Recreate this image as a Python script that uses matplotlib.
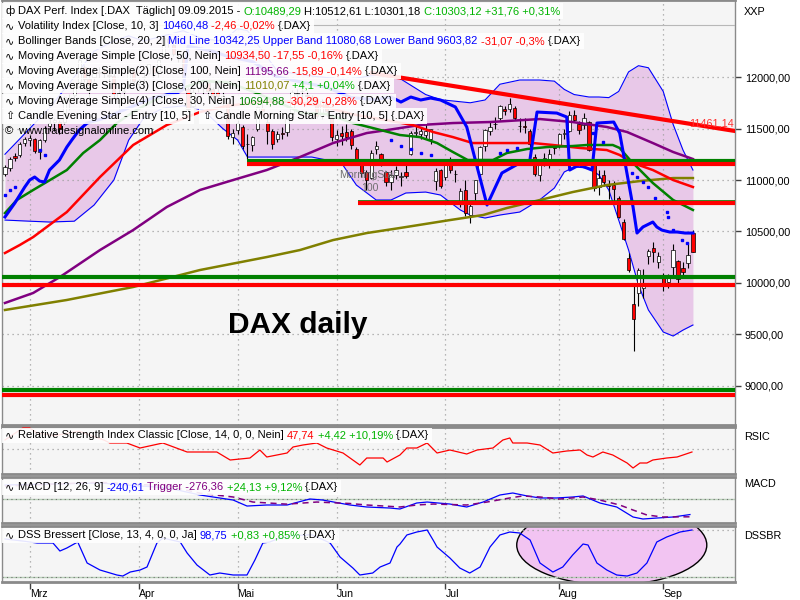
import numpy as np
import pandas as pd
import matplotlib.pyplot as plt
from matplotlib.patches import Rectangle, Ellipse

FONT = ['Liberation Sans', 'DejaVu Sans']
plt.rcParams['font.family'] = FONT

# trading days shown (Xetra, holidays removed)
dates = pd.bdate_range("2015-02-23", "2015-09-09")
dates = dates.drop(pd.to_datetime(["2015-04-03", "2015-04-06", "2015-05-01"]))
days = np.arange(len(dates))
month_labels = ["Mrz", "Apr", "Mai", "Jun", "Jul", "Aug", "Sep"]
month_pos = [int(np.argmax(dates.month == m)) for m in range(3, 10)]

opens = [11060, 11120, 11230, 11240, 11360, 11390, 11400, 11270, 11390, 11520,
         11560, 11560, 11560, 11800, 11830, 11950, 12100, 11980, 12000, 12050,
         12060, 12020, 12010, 11750, 11850, 11900, 12060, 11930, 11990, 12040,
         12100, 12060, 12200, 12370, 12310, 12230, 12180, 11880, 11720, 11900,
         11910, 11940, 11880, 11850, 11790, 11750, 11420, 11490, 11510, 11350,
         11340, 11500, 11700, 11560, 11480, 11400, 11460, 11470, 11640, 11840,
         11860, 11830, 11810, 11790, 11620, 11740, 11620, 11400, 11460, 11470,
         11480, 11300, 11160, 11080, 11020, 11300, 11250, 11080, 10980, 11050,
         11030, 11080, 11250, 11460, 11450, 11440, 11400, 10990, 11100, 11030,
         11160, 11060, 10780, 10900, 10660, 10870, 11060, 11330, 11480, 11540,
         11600, 11690, 11690, 11700, 11520, 11520, 11480, 11220, 11050, 11200,
         11180, 11320, 11330, 11450, 11480, 11630, 11540, 11530, 11560, 11150,
         10930, 11050, 10960, 10950, 10830, 10590, 10240, 9800, 9900, 9950,
         10260, 10340, 10200, 10080, 10010, 10160, 10213, 10150, 10190, 10489]
highs = [11150, 11220, 11260, 11370, 11420, 11440, 11410, 11400, 11520, 11600,
         11600, 11580, 11820, 11840, 11920, 12180, 12120, 12050, 12100, 12100,
         12100, 12060, 12060, 11880, 11900, 12100, 12070, 12000, 12050, 12140,
         12110, 12180, 12390, 12390, 12330, 12260, 12190, 11900, 11880, 11990,
         11960, 11960, 11900, 11910, 11850, 11760, 11500, 11580, 11530, 11450,
         11430, 11720, 11760, 11600, 11500, 11480, 11510, 11610, 11870, 11880,
         11920, 11860, 11830, 11810, 11790, 11760, 11640, 11490, 11520, 11540,
         11500, 11320, 11200, 11100, 11290, 11380, 11260, 11090, 11100, 11140,
         11080, 11170, 11480, 11520, 11510, 11550, 11500, 11120, 11110, 11200,
         11220, 11100, 10920, 11000, 10800, 11000, 11330, 11500, 11560, 11610,
         11730, 11720, 11800, 11720, 11600, 11600, 11500, 11250, 11200, 11260,
         11300, 11350, 11460, 11500, 11670, 11680, 11570, 11650, 11570, 11180,
         11100, 11100, 11000, 10990, 10840, 10620, 10290, 10000, 10150, 10140,
         10330, 10400, 10300, 10100, 10090, 10380, 10220, 10200, 10390, 10513]
lows = [11040, 11090, 11180, 11220, 11330, 11330, 11260, 11200, 11370, 11480,
        11480, 11450, 11540, 11680, 11800, 11940, 11950, 11800, 11960, 11990,
        11990, 11950, 11800, 11690, 11820, 11890, 11940, 11860, 11960, 12030,
        11980, 12000, 12190, 12290, 12200, 12150, 11960, 11660, 11700, 11850,
        11840, 11780, 11780, 11760, 11700, 11400, 11350, 11450, 11300, 11200,
        11280, 11480, 11620, 11350, 11300, 11370, 11400, 11430, 11630, 11800,
        11800, 11760, 11770, 11600, 11590, 11620, 11380, 11330, 11340, 11380,
        11300, 11150, 11030, 10900, 11010, 11250, 11140, 10940, 10900, 11010,
        10940, 11020, 11240, 11430, 11400, 11410, 11350, 10900, 10920, 11000,
        11070, 10980, 10740, 10650, 10580, 10810, 11040, 11280, 11440, 11500,
        11580, 11630, 11660, 11580, 11470, 11460, 11320, 11040, 10990, 11140,
        11120, 11250, 11310, 11400, 11470, 11560, 11450, 11500, 11280, 10890,
        10850, 10940, 10820, 10800, 10630, 10420, 10110, 9338, 9780, 9850,
        10180, 10200, 10150, 9920, 9950, 10060, 10000, 10060, 10150, 10301]
closes = [11131, 11206, 11211, 11352, 11402, 11409, 11280, 11390, 11504, 11551,
          11582, 11500, 11806, 11799, 11901, 12168, 11980, 11922, 12036, 12039,
          12041, 12014, 11832, 11843, 11868, 12086, 11966, 11968, 12002, 12123,
          12035, 12166, 12375, 12339, 12228, 12231, 11998, 11689, 11852, 11943,
          11918, 11867, 11811, 11812, 11811, 11432, 11454, 11553, 11327, 11350,
          11416, 11709, 11673, 11472, 11351, 11448, 11447, 11596, 11853, 11848,
          11864, 11815, 11800, 11625, 11771, 11673, 11413, 11436, 11432, 11419,
          11340, 11197, 11064, 11001, 11265, 11333, 11197, 10984, 11044, 11100,
          11040, 11040, 11460, 11471, 11472, 11473, 11492, 11084, 10945, 11180,
          11099, 11058, 10890, 10676, 10747, 10996, 11316, 11484, 11516, 11540,
          11716, 11673, 11734, 11604, 11520, 11512, 11347, 11056, 11174, 11212,
          11257, 11308, 11443, 11456, 11636, 11585, 11490, 11604, 11293, 10924,
          11015, 10985, 10940, 10915, 10636, 10432, 10124, 9648, 10128, 9998,
          10315, 10298, 10259, 9980, 10048, 10318, 10038, 10108, 10271, 10303]

# Bollinger bands
band_days = [0, 5, 9, 14, 18, 22, 25, 28, 32, 36, 40, 44, 47, 49, 55, 62, 68, 71, 75, 78,
             81, 85, 88, 92, 94, 97, 100, 104, 108, 111, 113, 115, 118, 120, 122, 124,
             126, 128, 130, 133, 135, 137, 139]
band_upper = [11250, 11500, 11700, 12000, 12250, 12350, 12400, 12350, 12400, 12450, 12370,
              12350, 12470, 12450, 12060, 12010, 11980, 11990, 12020, 12040, 11950, 11830,
              11780, 11760, 11750, 11777, 11930, 11971, 11971, 11960, 11880, 11830, 11806,
              11806, 11800, 11860, 12050, 12110, 12090, 11860, 11540, 11290, 11097]
band_lower = [10611, 10600, 10592, 10600, 10757, 11000, 11388, 11600, 11700, 11720, 11680,
              11500, 11388, 11223, 11223, 11223, 11165, 10951, 10806, 10806, 10874, 10883,
              10854, 10709, 10660, 10631, 10660, 10689, 10806, 10922, 11078, 11126, 11116,
              11048, 10903, 10611, 10320, 9980, 9738, 9524, 9485, 9543, 9592]

# volatility stop line and its dotted counterpart
vol_days = [0, 2, 4, 5, 6, 7, 8, 9, 11, 12.5, 13.5, 15, 16.6, 20, 25, 30, 35, 36, 37, 42,
            45, 50, 55, 60, 65, 70, 75, 78, 80, 82, 84, 86, 88, 91, 93.3, 97.4, 100.4, 104,
            106, 107.5, 111.5, 113.5, 114.1, 116, 118.6, 119.6, 123, 124.2, 126.9, 127.7,
            128.9, 130.9, 131.7, 132.7, 134.3, 135.8, 137.4, 139]
vol_vals = [10641, 10777, 10932, 11000, 11029, 10990, 10980, 11097, 11194, 11320, 11388,
            11485, 11553, 11600, 11700, 11800, 11850, 11880, 12300, 12250, 12200, 12150,
            12000, 11950, 11900, 11800, 11780, 11806, 11757, 11806, 11777, 11796, 11777,
            11709, 11515, 10757, 11068, 11165, 11175, 11660, 11650, 11612, 11097, 11146,
            11097, 11553, 11563, 11456, 10738, 10485, 10544, 10592, 10544, 10514, 10495,
            10495, 10485, 10485]
dot_days = [0, 1, 2, 7, 8, 78, 80, 82, 84, 86, 100, 101.4, 103.4, 118.8, 120.8, 126.7,
            127.7, 129, 130, 131.3, 133.7, 134, 135, 136.8, 137.8]
dot_vals = [10854, 10903, 10932, 11291, 11240, 11388, 11330, 11300, 11262, 11243, 11262,
            11291, 11311, 11456, 11369, 11068, 11029, 10980, 10932, 10825, 10689, 10641,
            10514, 10417, 10388]

sma50_days = [0, 3, 5.7, 12.5, 19.2, 25.9, 32.7, 39.4, 45, 52, 58, 64, 70, 76, 82.4, 86.5,
              90.5, 94.5, 101.4, 106.7, 110.7, 116.2, 121.6, 124.2, 126.9, 130.9, 135, 139]
sma50_vals = [10291, 10369, 10446, 10689, 11029, 11340, 11534, 11660, 11720, 11760, 11760,
              11720, 11640, 11590, 11534, 11466, 11417, 11359, 11359, 11359, 11340, 11311,
              11291, 11243, 11165, 11097, 11000, 10932]
sma100_days = [0, 5.7, 11.1, 19.2, 25.9, 32.7, 39.4, 46.1, 52.9, 59.6, 66.3, 73.1, 77.2,
               83.8, 90.5, 98, 108.1, 114.7, 121.6, 125.7, 130.9, 135, 139]
sma100_vals = [9806, 9903, 10058, 10320, 10514, 10738, 10903, 11000, 11097, 11223, 11359,
               11456, 11485, 11534, 11553, 11563, 11592, 11563, 11515, 11466, 11359, 11272,
               11204]
sma200_days = [0, 12.5, 25.9, 39.4, 52.9, 59.6, 66.3, 73.1, 79.8, 89.9, 96.6, 101.4, 108.1,
               114.7, 121.6, 128.3, 135, 139]
sma200_vals = [9738, 9835, 9961, 10126, 10252, 10320, 10417, 10485, 10534, 10611, 10660,
               10728, 10806, 10883, 10951, 10990, 11019, 11019]
sma30_days = [0, 2.4, 5.7, 9.1, 12.5, 15.8, 19.2, 22.6, 25.9, 30, 35, 40, 45, 50, 55, 60,
              65, 70.3, 74.3, 79.8, 83.8, 87.3, 90.5, 93.5, 98.6, 101.4, 105.5, 109.5, 114.7,
              117.6, 122.8, 124.2, 126.3, 128.3, 130.9, 135, 139]
sma30_vals = [10679, 10806, 10903, 11000, 11097, 11262, 11388, 11553, 11660, 11770, 11880,
              11960, 11950, 11860, 11760, 11650, 11640, 11553, 11505, 11437, 11417, 11359,
              11272, 11194, 11194, 11262, 11301, 11320, 11330, 11340, 11340, 11311, 11194,
              11097, 10971, 10806, 10709]

# horizontal support / resistance lines
level_prices = [11180, 11155, 10795, 10778, 10058, 9980, 8960, 8912]
level_start = [49, 49, 71.3, 71.3, -1, -1, -1, -1]
level_colors = ['#008000', '#ff0000', '#008000', '#ff0000', '#008000', '#ff0000', '#008000', '#ff0000']
level_widths = [3, 3, 1.2, 3, 3, 3, 3, 3]
trend_days = [74.1, 147.5]
trend_prices = [12039, 11476]

price_ticks = [9000, 9500, 10000, 10500, 11000, 11500, 12000]

rsi_days = [0, 3.6, 5, 6.5, 10, 15, 20, 21.2, 24.6, 27.3, 31.9, 36.8, 42.8, 45.5, 49.5, 51.5,
            52.9, 57, 58.2, 60.2, 63, 65, 68.3, 71.7, 73.1, 76.4, 77.2, 79.8, 81.2, 83.2, 85.3,
            87.3, 89.9, 93.3, 95.4, 98.6, 100.6, 102, 102.6, 105.5, 108.1, 110.7, 113.5, 116.2,
            117.6, 118.8, 120.8, 122.8, 125.7, 126.9, 128.3, 129.7, 130.9, 133.7, 135.8, 137, 138.8]
rsi_vals = [58.1, 68.9, 68.9, 64.4, 62, 66, 58, 55.4, 55.4, 50.9, 55.4, 47.3, 47.3, 40.1, 41.9,
            49.1, 42.8, 46.4, 51.8, 53.6, 55.4, 50.9, 46.4, 35.6, 41.9, 41.9, 38.3, 44.6, 50.9,
            50.9, 55.4, 46.4, 49.1, 45.5, 49.1, 50.9, 58.1, 59.9, 55.4, 55.4, 53.6, 46.4, 48.2,
            49.1, 44.6, 42.8, 47.3, 44.6, 37.4, 32.9, 37.4, 37.4, 40.1, 41.9, 42.8, 44.6, 47.3]

macd_days = [0, 19, 33, 39.4, 46.1, 48.9, 52.9, 57, 61.6, 64.2, 69.7, 73.1, 77.8, 79.8, 83.2,
             85.3, 89.9, 93.3, 96.6, 100, 102.6, 105.5, 108.1, 111.5, 114.7, 116.8, 120.2,
             123.6, 126.9, 128.9, 131.7, 135, 138.4]
macd_vals = [217, 248, 171, 62, -16, -109, -93, -93, 0, -16, -93, -124, -140, -155, -62, -47,
             -78, -124, -47, 62, 93, 47, 16, 16, 31, 47, -62, -124, -279, -310, -295, -279, -241]
trig_days = [0, 19, 33, 39.4, 46.1, 50.1, 57, 63, 69.7, 73.1, 79.8, 83.2, 86.5, 93.3, 97.4,
             102, 104.6, 108.1, 112.1, 116.8, 120.2, 124.2, 126.9, 129.7, 132.9, 138.4]
trig_vals = [200, 260, 200, 90, 31, -47, -80, -47, -70, -93, -124, -93, -78, -93, -47, 16, 47,
             31, 0, 31, -16, -93, -171, -248, -279, -276]

dss_days = [0, 4, 6.5, 9.7, 11.1, 12.5, 14.7, 16.6, 19.2, 22.6, 23.8, 25.3, 27.3, 28.7, 30.7,
            31.9, 35.4, 36.8, 38.8, 41.4, 43.4, 46.1, 48.9, 50.5, 52.1, 53.5, 55, 58, 62, 65.7,
            67.7, 70.3, 71.7, 74.3, 75.8, 77.8, 79.2, 79.8, 81.2, 83.2, 85.3, 86.5, 87.3, 89.9,
            91.9, 93.9, 96, 98, 100, 102, 104, 106.1, 108.1, 110.7, 112.7, 114.7, 116.8, 117.8,
            119.6, 121.6, 123.6, 125.7, 127.7, 129.7, 131.7, 133.7, 136.4, 138.8]
dss_vals = [80.9, 76, 72.3, 72.3, 55.3, 61.7, 74.5, 29.8, 14.9, 4.3, 2.1, 10.6, 14.9, 21.3,
            72.3, 83, 74.5, 51.1, 25.5, 4.3, 8.5, 4.3, 4.3, 36.2, 72.3, 74.5, 80.9, 88, 90, 72.3,
            42.6, 19.1, 4.3, 8.5, 21.3, 29.8, 63.8, 70, 89.4, 95.7, 100, 78.7, 63.8, 40.4, 19.1,
            8.5, 21.3, 63.8, 89.4, 95.7, 93.6, 78.7, 29.8, 10.6, 21.3, 46.8, 70.2, 68.1, 29.8,
            14.9, 4.3, 2.1, 8.5, 29.8, 74.5, 85.1, 95.7, 100]

o, h, l, c = (np.array(v, dtype=float) for v in (opens, highs, lows, closes))

fig = plt.figure(figsize=(8, 6), dpi=100)
L, W = 2 / 800, 733 / 800
ax = fig.add_axes([L, 1 - 425 / 600, W, 425 / 600])
ax_rsi = fig.add_axes([L, 1 - 474 / 600, W, 47 / 600])
ax_macd = fig.add_axes([L, 1 - 523 / 600, W, 46 / 600])
ax_dss = fig.add_axes([L, 1 - 582 / 600, W, 56 / 600])

dotted = (0, (1, 3))
for a in (ax, ax_rsi, ax_macd, ax_dss):
    a.set_facecolor('#f5f5f5')
    a.set_xlim(-0.6, 147.5)
    for s in a.spines.values():
        s.set_color('#8a8a8a')
        s.set_linewidth(1)
    a.spines['top'].set_linewidth(2)
    a.spines['bottom'].set_linewidth(2)
    a.tick_params(axis='x', bottom=False, labelbottom=False)
    a.tick_params(axis='y', left=False, labelleft=False, right=False, labelright=False)
    for m in month_pos:
        a.axvline(m, color='#a0a0a0', lw=0.9, ls=dotted, zorder=1)

# main price panel
ax.set_ylim(8621, 12748)
ax.fill_between(band_days, band_lower, band_upper, color='#e8c8e8', lw=0, zorder=0.8)
ax.plot(band_days, band_upper, color='#0000ff', lw=0.8, zorder=2)
ax.plot(band_days, band_lower, color='#0000ff', lw=0.8, zorder=2)
for p in price_ticks:
    ax.axhline(p, color='#a0a0a0', lw=0.9, ls=dotted, zorder=1)

up = c >= o
ax.vlines(days, l, h, color='black', lw=0.8, zorder=3)
ax.bar(days, np.abs(c - o), bottom=np.minimum(o, c), width=0.66,
       color=np.where(up, 'white', '#ff0000'), edgecolor='black', lw=0.5, zorder=3.1)

ax.plot(sma200_days, sma200_vals, color='#808000', lw=1.8, zorder=4)
ax.plot(sma100_days, sma100_vals, color='#800080', lw=1.8, zorder=4)
ax.plot(sma50_days, sma50_vals, color='#ff0000', lw=1.8, zorder=4)
ax.plot(sma30_days, sma30_vals, color='#008000', lw=1.8, zorder=4)
ax.plot(vol_days, vol_vals, color='#0000ff', lw=2.2, zorder=4.5)
ax.plot(dot_days, dot_vals, ls='none', marker='s', ms=1.6, color='#0000ff', zorder=4.5)

for p, s0, col, lw in zip(level_prices, level_start, level_colors, level_widths):
    ax.hlines(p, s0, 147.5, color=col, lw=lw, zorder=5)
ax.plot(trend_days, trend_prices, color='#ff0000', lw=3, zorder=5)
ax.text(147.2, 11544, "11461,14", color='#ff3030', fontsize=7.8, ha='right', va='center', zorder=6)
ax.text(67.5, 11048, "MorningStar", color='#707070', fontsize=7.6, ha='left', va='center', zorder=6)
ax.text(72, 10922, "100", color='#707070', fontsize=7.6, ha='left', va='center', zorder=6)
ax.plot([0, 1], [1 - 25 / 425] * 2, transform=ax.transAxes, color='#b8b8b8', lw=0.8, zorder=6)

ax.yaxis.tick_right()
ax.set_yticks(price_ticks)
ax.set_yticklabels([f"{p:.2f}".replace('.', ',') for p in price_ticks])
ax.tick_params(axis='y', right=True, labelright=True, length=4, width=1,
               color='#404040', labelsize=7.8, pad=3)

# RSI
ax_rsi.set_ylim(27.5, 69.8)
ax_rsi.axhline(50, color='#a0a0a0', lw=0.9, ls=dotted)
ax_rsi.plot(rsi_days, rsi_vals, color='#ff0000', lw=0.9, zorder=3)

# MACD
ax_macd.set_ylim(-372, 341)
ax_macd.axhline(0, color='#b8d0b8', lw=1)
ax_macd.axhline(0, color='#707070', lw=0.8, ls=dotted)
ax_macd.plot(macd_days, macd_vals, color='#0000ff', lw=0.9, zorder=3)
ax_macd.plot(trig_days, trig_vals, color='#800080', lw=1.1, ls=(0, (4, 3)), zorder=3)

# DSS
ax_dss.set_ylim(-10.6, 108.5)
ax_dss.add_patch(Ellipse((122.6, 68), 38.4, 170, facecolor='#f2c4f2', edgecolor='black', lw=1, zorder=1.5))
ax_dss.axhline(0, color='#b8d0b8', lw=1, zorder=2)
ax_dss.axhline(0, color='#707070', lw=0.8, ls=dotted, zorder=2)
ax_dss.axhline(100, color='#a0a0a0', lw=0.9, ls=dotted, zorder=2)
ax_dss.plot(dss_days, dss_vals, color='#0000ff', lw=0.9, zorder=3)
ax_dss.set_xticks(month_pos)
ax_dss.set_xticklabels(month_labels, ha='left')
ax_dss.tick_params(axis='x', bottom=True, labelbottom=True, length=5, width=1,
                   color='#404040', labelsize=7.6, pad=0)

# texts on top of the chart
renderer = fig.canvas.get_renderer()
FS = 8.0


def text_w(s):
    t = fig.text(0, 0, s, fontsize=FS)
    w = t.get_window_extent(renderer).width
    t.remove()
    return w


space_w = text_w("x x") - text_w("xx")


def rich(x0, y0, parts, icon="∿", box=True):
    x = x0
    if icon:
        fig.text((x0 - 13) / 800, 1 - y0 / 600, icon, color='black', fontsize=FS,
                 va='center', ha='left', zorder=6)
    for s, col in parts:
        core = s.rstrip(' ')
        fig.text(x / 800, 1 - y0 / 600, core, color=col, fontsize=FS, va='center',
                 ha='left', zorder=6)
        x += text_w(core) + space_w * (len(s) - len(core))
    if box:
        fig.add_artist(Rectangle(((x0 - 16) / 800, 1 - (y0 + 7.5) / 600), (x - x0 + 19) / 800,
                                 15 / 600, transform=fig.transFigure, facecolor='white',
                                 alpha=0.9, edgecolor='none', zorder=5))


K, B, R, G = 'black', '#0000ff', '#ff0000', '#00b400'
rich(18, 11, [("DAX Perf. Index [.DAX  Täglich] 09.09.2015 - ", K), ("O:10489,29 ", G),
              ("H:10512,61 L:10301,18 ", K), ("C:10303,12 +31,76 +0,31%", G)], icon="ф")
rich(18, 26, [("Volatility Index [Close, 10, 3] ", K), ("10460,48 ", B), ("-2,46 -0,02% ", R), ("{.DAX}", K)])
rich(18, 41, [("Bollinger Bands [Close, 20, 2] ", K),
              ("Mid Line 10342,25 Upper Band 11080,68 Lower Band 9603,82 ", B),
              ("-31,07 -0,3% ", R), ("{.DAX}", K)])
rich(18, 56, [("Moving Average Simple [Close, 50, Nein] ", K), ("10934,50 ", R), ("-17,55 -0,16% ", R), ("{.DAX}", K)])
rich(18, 71, [("Moving Average Simple(2) [Close, 100, Nein] ", K), ("11195,66 ", '#800080'),
              ("-15,89 -0,14% ", R), ("{.DAX}", K)])
rich(18, 86, [("Moving Average Simple(3) [Close, 200, Nein] ", K), ("11010,07 ", '#808000'),
              ("+4,1 +0,04% ", G), ("{.DAX}", K)])
rich(18, 101, [("Moving Average Simple(4) [Close, 30, Nein] ", K), ("10694,88 ", '#008000'),
               ("-30,29 -0,28% ", R), ("{.DAX}", K)])
rich(18, 116, [("Candle Evening Star - Entry [10, 5]", K)], icon="⇧")
rich(215, 116, [("Candle Morning Star - Entry [10, 5] {.DAX}", K)], icon="⇧")
rich(18, 131, [("www.tradesignalonline.com", K)], icon="©", box=False)
rich(18, 435, [("Relative Strength Index Classic [Close, 14, 0, 0, Nein] ", K), ("47,74 ", R),
               ("+4,42 +10,19% ", G), ("{.DAX}", K)])
rich(18, 487, [("MACD [12, 26, 9] ", K), ("-240,61 ", B), ("Trigger -276,36 ", '#800080'),
               ("+24,13 +9,12% ", G), ("{.DAX}", K)])
rich(18, 535, [("DSS Bressert [Close, 13, 4, 0, 0, Ja] ", K), ("98,75 ", B),
               ("+0,83 +0,85% ", G), ("{.DAX}", K)])

for label, y in [("XXP", 12), ("RSIC", 437), ("MACD", 484), ("DSSBR", 536)]:
    fig.text(744 / 800, 1 - y / 600, label, fontsize=7.8, va='center', ha='left')

fig.text(228 / 800, 1 - 325 / 600, "DAX daily", fontsize=21.5, fontweight='bold',
         va='center', ha='left', zorder=6)

fig.savefig("out.png", dpi=100)
